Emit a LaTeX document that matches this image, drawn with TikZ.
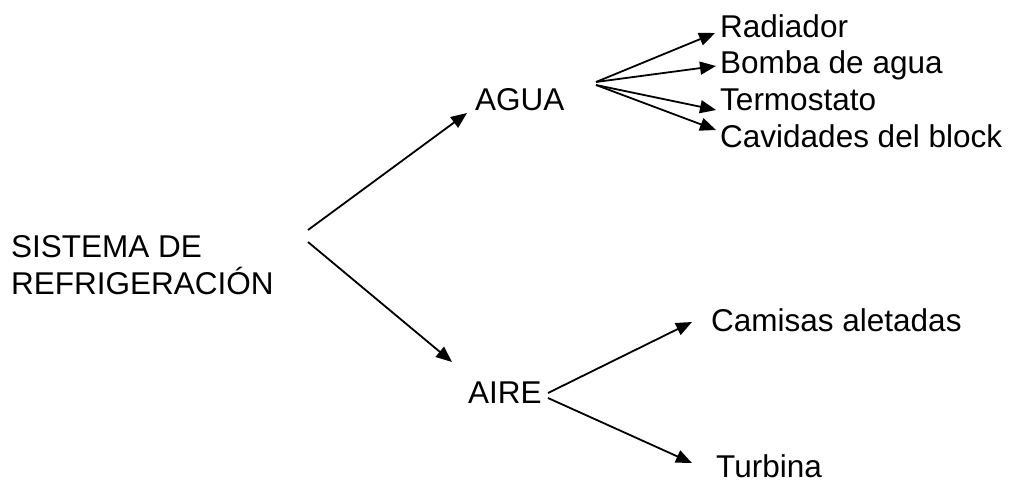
\documentclass[tikz,border=0pt]{standalone}
\usepackage{fontspec}
\setmainfont{Liberation Sans}
\usetikzlibrary{arrows.meta}
\begin{document}
\begin{tikzpicture}[x=1pt,y=-1pt,
  lbl/.style={anchor=base west, inner sep=0pt, font=\fontsize{31.5}{37}\selectfont},
  arr/.style={line width=1.8pt, -{Triangle[length=16pt,width=13pt]}}]
\useasboundingbox (0,0) rectangle (1016,482);
% text nodes
\node[lbl] (s1) at (11,257) {SISTEMA DE};
\node[lbl] (s2) at (11,294) {REFRIGERACIÓN};
\node[lbl] (agua) at (475,110) {AGUA};
\node[lbl] (aire) at (468,403) {AIRE};
\node[lbl] (rad) at (720,37) {Radiador};
\node[lbl] (bom) at (720,73) {Bomba de agua};
\node[lbl] (ter) at (720,110) {Termostato};
\node[lbl] (cav) at (720,147) {Cavidades del block};
\node[lbl] (cam) at (711,331) {Camisas aletadas};
\node[lbl] (tur) at (716,477) {Turbina};
% connector end points
\coordinate (sOutA) at (308,230);
\coordinate (sOutB) at (308,242);
\coordinate (aguaIn) at (467,113);
\coordinate (aireIn) at (452,362);
\coordinate (aguaOutA) at (596,82);
\coordinate (aguaOutB) at (596,85);
\coordinate (radIn) at (715,33);
\coordinate (bomIn) at (716,66);
\coordinate (terIn) at (716,110);
\coordinate (cavIn) at (716,130);
\coordinate (aireOutA) at (548,393);
\coordinate (aireOutB) at (548,398);
\coordinate (camIn) at (692,322);
\coordinate (turIn) at (692,463);
% connectors
\draw[arr] (sOutA) -- (aguaIn);
\draw[arr] (sOutB) -- (aireIn);
\draw[arr] (aguaOutA) -- (radIn);
\draw[arr] (aguaOutA) -- (bomIn);
\draw[arr] (aguaOutB) -- (terIn);
\draw[arr] (aguaOutB) -- (cavIn);
\draw[arr] (aireOutA) -- (camIn);
\draw[arr] (aireOutB) -- (turIn);
\end{tikzpicture}
\end{document}
